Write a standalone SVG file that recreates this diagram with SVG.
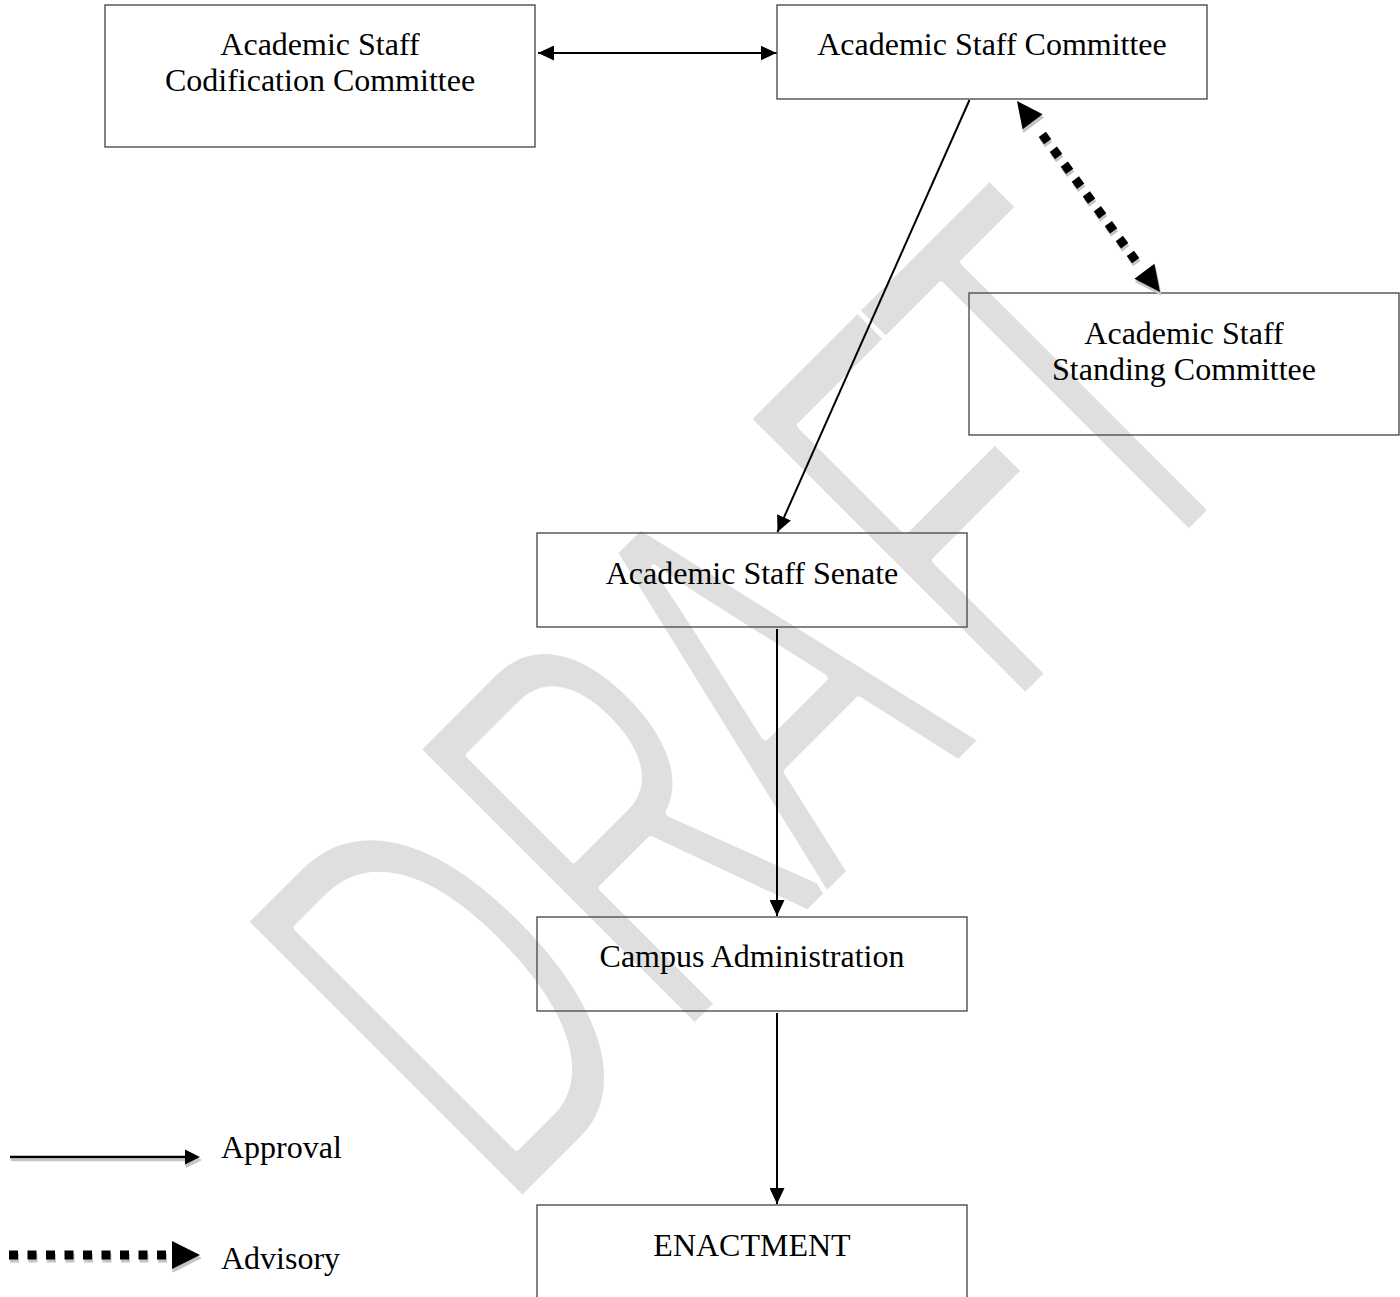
<svg xmlns="http://www.w3.org/2000/svg" width="1400" height="1297" viewBox="0 0 1400 1297">
  <style>
    .box { fill: none; stroke: #4f4f4f; stroke-width: 1.4; }
    .lbl { font-family: "Liberation Serif", "Times New Roman", serif; font-size: 32px; fill: #000; }
    .mid { text-anchor: middle; }
    .flow { fill: none; stroke: #000; stroke-width: 2; }
    .dots { fill: none; stroke-width: 9; }
    .shadow { fill: #c4c4c4; stroke: #c4c4c4; }
    .wm { font-family: "Liberation Sans", Arial, sans-serif; font-size: 100px; fill: #dfdfdf; stroke: #fff; stroke-width: 1.5; stroke-linejoin: round; paint-order: fill; }
  </style>
  <defs>
    <marker id="ah" markerUnits="userSpaceOnUse" viewBox="0 0 16 15" markerWidth="16" markerHeight="15" refX="16" refY="7.5" orient="auto-start-reverse">
      <path d="M0,0 L16,7.5 L0,15 Z" fill="#000"/>
    </marker>
  </defs>

  <!-- watermark behind everything; the white outline slims the letters -->
  <g id="watermark" transform="translate(523,1200) rotate(-45) scale(3.3,5.73)">
    <text class="wm" x="-7.9 66 130.3 207.6 260" y="0">DRAFT</text>
  </g>

  <!-- nodes -->
  <g id="codification-committee">
    <rect class="box" x="105" y="5" width="430" height="142"/>
    <text class="lbl mid" x="320" y="55">Academic Staff</text>
    <text class="lbl mid" x="320" y="91">Codification Committee</text>
  </g>
  <g id="staff-committee">
    <rect class="box" x="777" y="5" width="430" height="94"/>
    <text class="lbl mid" x="992" y="55">Academic Staff Committee</text>
  </g>
  <g id="standing-committee">
    <rect class="box" x="969" y="293" width="430" height="142"/>
    <text class="lbl mid" x="1184" y="344">Academic Staff</text>
    <text class="lbl mid" x="1184" y="380">Standing Committee</text>
  </g>
  <g id="staff-senate">
    <rect class="box" x="537" y="533" width="430" height="94"/>
    <text class="lbl mid" x="752" y="584">Academic Staff Senate</text>
  </g>
  <g id="campus-administration">
    <rect class="box" x="537" y="917" width="430" height="94"/>
    <text class="lbl mid" x="752" y="967">Campus Administration</text>
  </g>
  <g id="enactment">
    <rect class="box" x="537" y="1205" width="430" height="110"/>
    <text class="lbl mid" x="752" y="1256">ENACTMENT</text>
  </g>

  <!-- connectors -->
  <g id="connectors">
    <line class="flow" x1="538" y1="53" x2="776.5" y2="53" marker-start="url(#ah)" marker-end="url(#ah)"/>
    <line class="flow" x1="969.5" y1="100" x2="777.5" y2="532" marker-end="url(#ah)"/>
    <line class="flow" x1="777" y1="629" x2="777" y2="916" marker-end="url(#ah)"/>
    <line class="flow" x1="777" y1="1013" x2="777" y2="1204" marker-end="url(#ah)"/>

    <!-- advisory link: shadow copy, then the black one -->
    <g transform="translate(1,3)" class="shadow">
      <line class="dots" x1="1042.3" y1="134.4" x2="1135.7" y2="260.6" stroke-dasharray="9 9.5"/>
      <polygon points="1017,101 1042.6,114.3 1022.6,129.3"/>
      <polygon points="1160,292 1134.4,278.7 1154.4,263.7"/>
    </g>
    <g>
      <line class="dots" stroke="#000" x1="1042.3" y1="134.4" x2="1135.7" y2="260.6" stroke-dasharray="9 9.5"/>
      <polygon fill="#000" points="1017,101 1042.6,114.3 1022.6,129.3"/>
      <polygon fill="#000" points="1160,292 1134.4,278.7 1154.4,263.7"/>
    </g>
  </g>

  <!-- legend -->
  <g id="legend">
    <g transform="translate(1,3)" class="shadow">
      <line x1="10" y1="1157" x2="187" y2="1157" stroke-width="2.5"/>
      <polygon points="185,1149.5 200,1157 185,1164.5"/>
      <line class="dots" x1="9" y1="1255" x2="166" y2="1255" stroke-dasharray="9 9.5" stroke-width="8"/>
      <polygon points="172,1241 200,1255 172,1269"/>
    </g>
    <line x1="10" y1="1157" x2="187" y2="1157" stroke="#000" stroke-width="2.5"/>
    <polygon points="185,1149.5 200,1157 185,1164.5" fill="#000"/>
    <text class="lbl" x="221" y="1158">Approval</text>
    <line class="dots" stroke="#000" x1="9" y1="1255" x2="166" y2="1255" stroke-dasharray="9 9.5" stroke-width="8"/>
    <polygon points="172,1241 200,1255 172,1269" fill="#000"/>
    <text class="lbl" x="221" y="1269">Advisory</text>
  </g>
</svg>
